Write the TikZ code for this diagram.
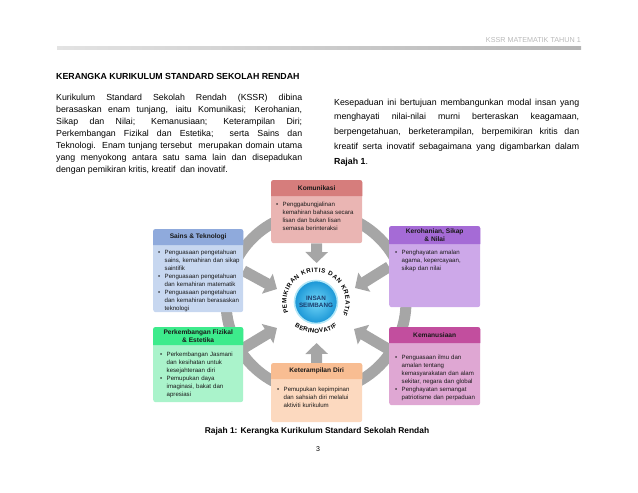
\documentclass[tikz,border=0pt]{standalone}
\usepackage{fontspec}
\setmainfont{Liberation Sans}
\usetikzlibrary{arrows.meta,calc,decorations.text,backgrounds}

\definecolor{ringgray}{HTML}{A6A6A6}
\definecolor{komH}{HTML}{D67D7C}
\definecolor{komB}{HTML}{EAB5B3}
\definecolor{sainsH}{HTML}{8FAADC}
\definecolor{sainsB}{HTML}{C7D7F0}
\definecolor{kerH}{HTML}{A56BD6}
\definecolor{kerB}{HTML}{CDA8E9}
\definecolor{perkH}{HTML}{3DEB8C}
\definecolor{perkB}{HTML}{AAF3CB}
\definecolor{kemH}{HTML}{C24E9E}
\definecolor{kemB}{HTML}{DFA7D3}
\definecolor{ketH}{HTML}{F8BD92}
\definecolor{ketB}{HTML}{FCD9BF}
\definecolor{circinner}{HTML}{72D6F8}
\definecolor{circouter}{HTML}{1A96D6}
\definecolor{circrim}{HTML}{B5E8F8}
\definecolor{insantext}{HTML}{1B3D6E}

\newcommand{\kbul}{\makebox[6.5pt][l]{\textbullet}}
\newcommand{\kind}{\hspace*{6.5pt}}

\tikzset{
  boxbody/.style={rectangle, rounded corners=2.5pt, inner sep=0pt, anchor=north west},
  hdrtext/.style={font=\fontsize{6.6}{7.6}\selectfont\bfseries, align=center, inner sep=0pt, text=black!90},
  bodytext/.style={font=\fontsize{6.1}{8.1}\selectfont, text width=84pt, align=left, inner sep=0pt, anchor=base west, text=black!90},
  para/.style={anchor=base west, inner sep=0pt, align=justify},
  garrow/.style={draw=ringgray, line width=11pt, -{Triangle[width=22pt,length=11pt]}},
  ringtext/.style={decorate, decoration={text along path, text align={fit to path}}},
}

% name, x, y, w, h, header height, header colour, body colour, title
\newcommand{\kbox}[9]{%
  \node[boxbody, fill=#8, minimum width=#4pt, minimum height=#5pt] (#1) at (#2,#3) {};
  \fill[#7] ($(#1.north west)+(0,#6)$) [rounded corners=2.5pt] -- (#1.north west) -- (#1.north east) [sharp corners] -- ($(#1.north east)+(0,#6)$) -- cycle;
  \node[hdrtext] (#1-t) at ($(#1.north)+(0,#6/2)$) {#9};
}

\begin{document}
\begin{tikzpicture}[x=1pt,y=-1pt]
\useasboundingbox (0,0) rectangle (638,493);

% page header
\shade[left color=gray!22, right color=gray!58] (57,46.5) rectangle (581,49.5);
\node[anchor=base east, inner sep=0pt, font=\fontsize{7.2}{8}\selectfont, text=gray!55] (hdr) at (581,42) {KSSR MATEMATIK TAHUN 1};

% title and paragraphs
\node[anchor=base west, inner sep=0pt, font=\fontsize{8.8}{10}\selectfont\bfseries] (title) at (56,79) {KERANGKA KURIKULUM STANDARD SEKOLAH RENDAH};

\node[para, text width=246pt, font=\fontsize{8.8}{12.1}\selectfont] (p1) at (56,100)
{\hyphenpenalty=10000\sloppy Kurikulum Standard Sekolah Rendah (KSSR) dibina\linebreak
berasaskan enam tunjang, iaitu Komunikasi; Kerohanian,\linebreak
Sikap dan Nilai; Kemanusiaan; Keterampilan Diri;\linebreak
Perkembangan Fizikal dan Estetika;\ \ serta Sains dan\linebreak
Teknologi.\ \ Enam tunjang tersebut\ \ merupakan domain utama\linebreak
yang menyokong antara satu sama lain dan disepadukan\linebreak
dengan pemikiran kritis, kreatif\ \ dan inovatif.};

\node[para, text width=245pt, font=\fontsize{8.8}{14.8}\selectfont] (p2) at (334,105)
{\hyphenpenalty=10000\sloppy Kesepaduan ini bertujuan membangunkan modal insan yang\linebreak
menghayati nilai-nilai murni berteraskan keagamaan,\linebreak
berpengetahuan, berketerampilan, berpemikiran kritis dan\linebreak
kreatif serta inovatif sebagaimana yang digambarkan dalam\linebreak
\textbf{Rajah 1}.};

% boxes
\kbox{kom}{271}{180}{91}{63}{16}{komH}{komB}{Komunikasi}
\kbox{sains}{153}{229}{90}{83}{16}{sainsH}{sainsB}{Sains \& Teknologi}
\kbox{keroh}{389}{226}{91}{81}{18}{kerH}{kerB}{Kerohanian, Sikap\\\& Nilai}
\kbox{perk}{153}{327}{90}{75}{18}{perkH}{perkB}{Perkembangan Fizikal\\\& Estetika}
\kbox{keman}{389}{327}{91}{78}{16}{kemH}{kemB}{Kemanusiaan}
\kbox{ketr}{271}{363}{91}{59}{16}{ketH}{ketB}{Keterampilan Diri}

\node[bodytext] (kom-b) at (276,206)
{\kbul Penggabungjalinan\\\kind kemahiran bahasa secara\\\kind lisan dan bukan lisan\\\kind semasa berinteraksi};
\node[bodytext] (sains-b) at (158,254)
{\kbul Penguasaan pengetahuan\\\kind sains, kemahiran dan sikap\\\kind saintifik\\
\kbul Penguasaan pengetahuan\\\kind dan kemahiran matematik\\
\kbul Penguasaan pengetahuan\\\kind dan kemahiran berasaskan\\\kind teknologi};
\node[bodytext] (keroh-b) at (395,254)
{\kbul Penghayatan amalan\\\kind agama, kepercayaan,\\\kind sikap dan nilai};
\node[bodytext] (perk-b) at (160,356)
{\kbul Perkembangan Jasmani\\\kind dan kesihatan untuk\\\kind kesejahteraan diri\\
\kbul Pemupukan daya\\\kind imaginasi, bakat dan\\\kind apresiasi};
\node[bodytext] (keman-b) at (395,359)
{\kbul Penguasaan ilmu dan\\\kind amalan tentang\\\kind kemasyarakatan dan alam\\\kind sekitar, negara dan global\\
\kbul Penghayatan semangat\\\kind patriotisme dan perpaduan};
\node[bodytext] (ketr-b) at (277,391)
{\kbul Pemupukan kepimpinan\\\kind dan sahsiah diri melalui\\\kind aktiviti kurikulum};

% centre
\node[circle, minimum size=43pt, inner sep=0pt, draw=circrim, line width=1.6pt,
      inner color=circinner, outer color=circouter, align=center,
      font=\fontsize{6.3}{7.4}\selectfont\bfseries, text=insantext] (insan) at (316,302) {INSAN\\SEIMBANG};

\path[ringtext, decoration={text={|\fontsize{6.2}{7}\selectfont\bfseries|PEMIKIRAN KRITIS DAN KREATIF}}]
  (insan.center) ++(201:29.5pt) arc[start angle=201, end angle=-27, radius=29.5pt];
\path[ringtext, decoration={text={|\fontsize{6.2}{7}\selectfont\bfseries|BERINOVATIF}}]
  ($(insan.center)+(0,-8)$) ++(237:39pt) arc[start angle=237, end angle=303, radius=39pt];

% arrow tips
\coordinate (t1) at (316.5,263);
\coordinate (t2) at (316.5,343);
\coordinate (t3) at (277,289);
\coordinate (t4) at (355,288);
\coordinate (t5) at (277,328);
\coordinate (t6) at (354,329);

\begin{pgfonlayer}{background}
  \draw[ringgray, line width=11pt] (insan.center) circle[radius=90pt];
  \draw[garrow] (kom.south) -- (t1);
  \draw[garrow] (ketr.north) -- (t2);
  \draw[garrow] (sains.east) -- (t3);
  \draw[garrow] (keroh.west) -- (t4);
  \draw[garrow] (perk.20) -- (t5);
  \draw[garrow] (keman.160) -- (t6);
\end{pgfonlayer}

% caption and page number
\node[anchor=base, inner sep=0pt, font=\fontsize{8.4}{10}\selectfont\bfseries] (cap) at (317,433) {Rajah 1: Kerangka Kurikulum Standard Sekolah Rendah};
\node[anchor=base, inner sep=0pt, font=\fontsize{7}{8}\selectfont] (pg) at (318,451) {3};
\end{tikzpicture}
\end{document}
